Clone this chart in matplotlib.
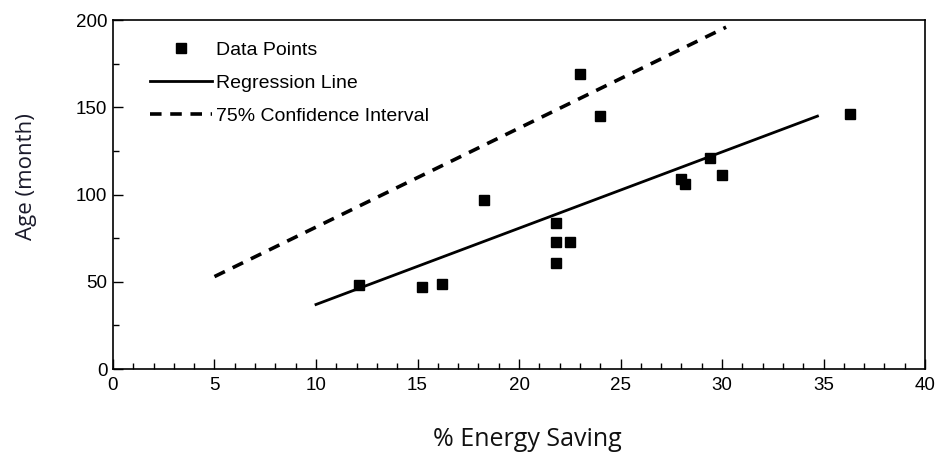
import numpy as np
import matplotlib
matplotlib.use("Agg")
import matplotlib.pyplot as plt
from matplotlib.ticker import MultipleLocator

# data
saving = [12.1, 15.2, 16.2, 18.3, 21.8, 21.8, 22.5, 21.8, 23.0, 24.0, 28.0, 28.2, 29.4, 30.0, 36.3]
age = [48, 47, 49, 97, 84, 73, 73, 61, 169, 145, 109, 106, 121, 111, 146]

reg_x = [10, 34.7]
reg_y = [37, 145]
ci_x = [5, 30.2]
ci_y = [53, 196]

fig = plt.figure(figsize=(9.36, 4.59), dpi=100)
ax = fig.add_axes([0.1207, 0.196, 0.8676, 0.760])

ax.plot(saving, age, "s", color="black", markersize=7.6, label="Data Points", zorder=3)
ax.plot(reg_x, reg_y, "-", color="black", linewidth=2.0, label="Regression Line")
ax.plot(ci_x, ci_y, color="black", linewidth=2.6, dashes=(3.2, 2.4), label="75% Confidence Interval")

ax.set_xlim(0, 40)
ax.set_ylim(0, 200)
ax.xaxis.set_major_locator(MultipleLocator(5))
ax.xaxis.set_minor_locator(MultipleLocator(1))
ax.yaxis.set_major_locator(MultipleLocator(50))
ax.yaxis.set_minor_locator(MultipleLocator(25))
ax.tick_params(which="both", direction="in", top=False, right=False, width=1.0)
ax.tick_params(which="major", length=7, labelsize=13.5)
ax.tick_params(axis="x", which="major", pad=6)
ax.tick_params(axis="y", which="major", pad=4)
ax.tick_params(which="minor", length=4)
for lab in ax.get_xticklabels() + ax.get_yticklabels():
    lab.set_family("Liberation Sans")
for s in ax.spines.values():
    s.set_linewidth(1.2)

leg = ax.legend(loc="upper left", frameon=False, bbox_to_anchor=(0.024, 0.99),
                prop={"family": "Liberation Sans", "size": 14},
                handlelength=3.2, handletextpad=0.2, labelspacing=0.8, numpoints=1)

ax.set_xlabel("% Energy Saving", fontsize=18, family="Open Sans", color="#111111")
ax.set_ylabel("Age (month)", fontsize=16, family="Open Sans", color="#1a1a2a")
ax.xaxis.set_label_coords(0.51, -0.165)
ax.yaxis.set_label_coords(-0.093, 0.553)

fig.savefig("out.png", dpi=100)
